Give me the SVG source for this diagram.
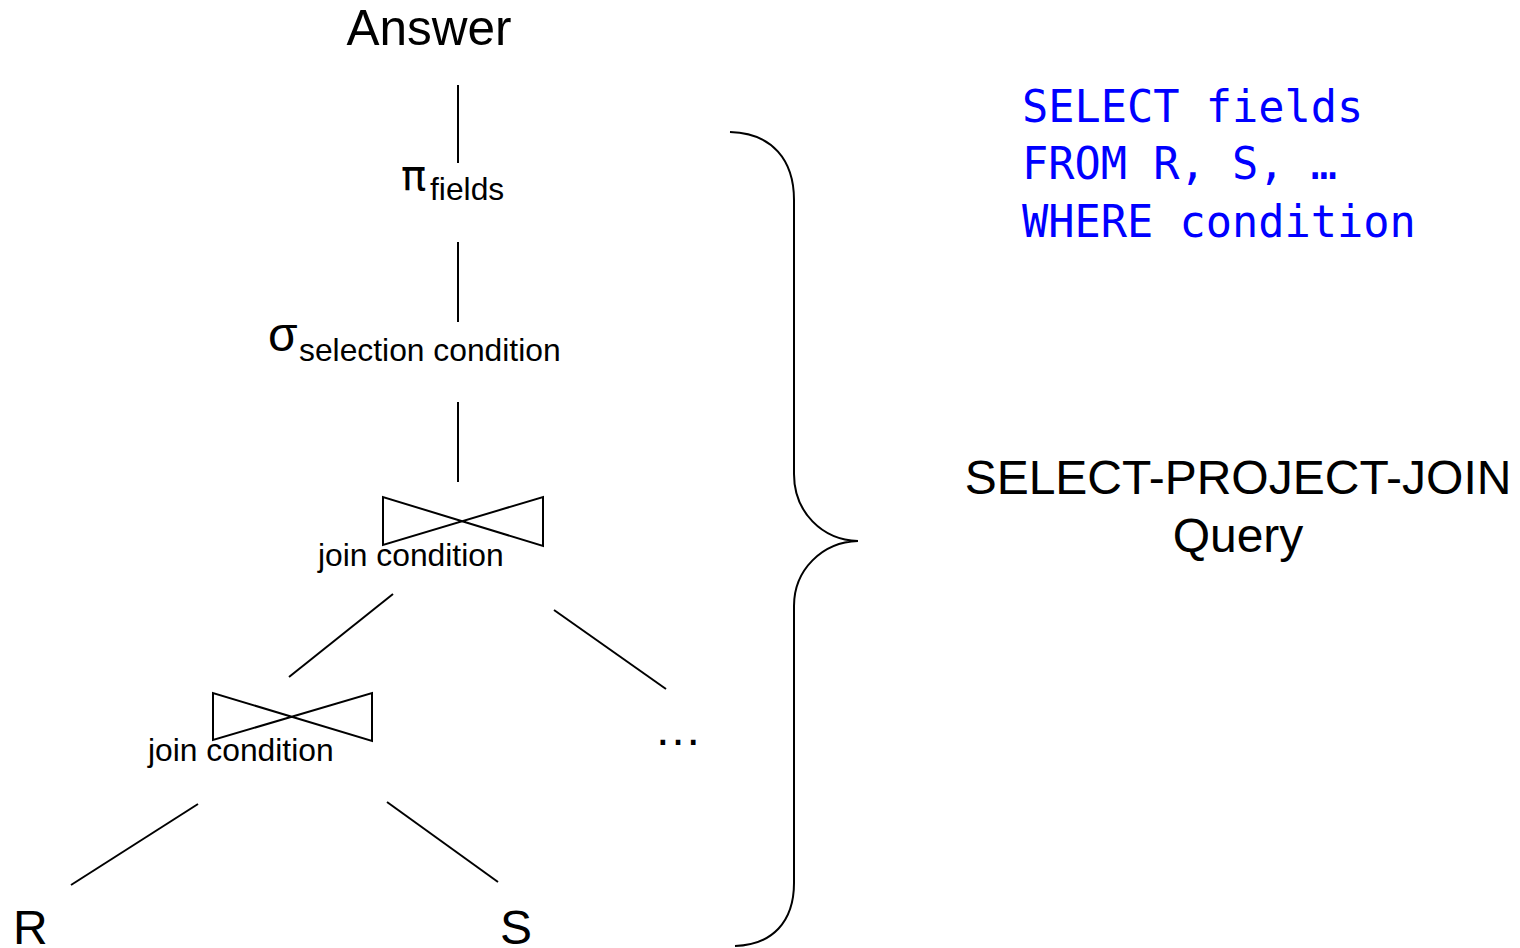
<svg xmlns="http://www.w3.org/2000/svg" width="1520" height="948" viewBox="0 0 1520 948">
<style>
.t{font-family:"Liberation Sans",Arial,sans-serif;fill:#000}
.big{font-size:48px}
.sub{font-size:31.8px}
.sym{font-family:"DejaVu Sans","Liberation Sans",sans-serif;font-size:42px;fill:#000}
.sql{font-family:"DejaVu Sans Mono","Liberation Mono",monospace;font-size:43.6px;fill:#0000FF}
.ln{stroke:#000;stroke-width:2;fill:none}
</style>
<rect width="1520" height="948" fill="#fff"/>
<g id="connectors">
<line class="ln" x1="458" y1="85" x2="458" y2="163"/>
<line class="ln" x1="458" y1="242" x2="458" y2="322"/>
<line class="ln" x1="458" y1="402" x2="458" y2="482"/>
<line class="ln" x1="393" y1="594" x2="289" y2="677"/>
<line class="ln" x1="554" y1="610" x2="666" y2="689"/>
<line class="ln" x1="198" y1="804" x2="71" y2="885"/>
<line class="ln" x1="387" y1="802" x2="498" y2="882"/>
</g>
<g id="answer"><text class="t" x="429" y="45" text-anchor="middle" font-size="49.5">Answer</text></g>
<g id="project">
<text class="sym" x="401" y="190">π</text>
<text class="t sub" x="430" y="200">fields</text>
</g>
<g id="select">
<text class="t big" x="268" y="351">σ</text>
<text class="t sub" x="299" y="361">selection condition</text>
</g>
<g id="join1">
<path class="ln" d="M383,497 L383,545 L543,497 L543,546 Z"/>
<text class="t sub" x="318" y="566">join condition</text>
</g>
<g id="join2">
<path class="ln" d="M213,693 L213,740 L372,693 L372,741 Z"/>
<text class="t sub" x="148" y="761">join condition</text>
</g>
<g id="more"><text class="t big" x="654" y="745">…</text></g>
<g id="R"><text class="t big" x="13" y="944">R</text></g>
<g id="S"><text class="t big" x="500" y="944">S</text></g>
<g id="brace"><path class="ln" d="M730,132 C772,133 794,160 794,200 L794,474 C794,512 822,540 858,541 C822,542 794,570 794,606 L794,883 C794,922 772,945 735,946"/></g>
<g id="sql">
<text class="sql" x="1022" y="122">SELECT fields</text>
<text class="sql" x="1022" y="179">FROM R, S, …</text>
<text class="sql" x="1022" y="237">WHERE condition</text>
</g>
<g id="label">
<text class="t big" x="1238" y="494" text-anchor="middle">SELECT-PROJECT-JOIN</text>
<text class="t big" x="1238" y="552" text-anchor="middle">Query</text>
</g>
</svg>
